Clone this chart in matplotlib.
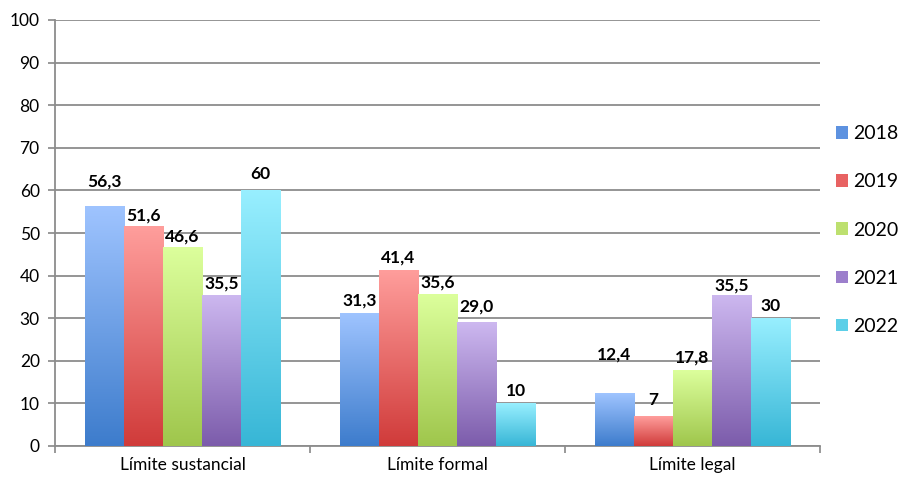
import numpy as np
import matplotlib
matplotlib.use("Agg")
import matplotlib.pyplot as plt
from matplotlib.colors import LinearSegmentedColormap
from matplotlib.patches import Patch

categories = ["Límite sustancial", "Límite formal", "Límite legal"]
years = ["2018", "2019", "2020", "2021", "2022"]
v2018 = [56.3, 31.3, 12.4]
v2019 = [51.6, 41.4, 7]
v2020 = [46.6, 35.6, 17.8]
v2021 = [35.5, 29.0, 35.5]
v2022 = [60, 10, 30]
labels2018 = ["56,3", "31,3", "12,4"]
labels2019 = ["51,6", "41,4", "7"]
labels2020 = ["46,6", "35,6", "17,8"]
labels2021 = ["35,5", "29,0", "35,5"]
labels2022 = ["60", "10", "30"]
yticks = [0, 10, 20, 30, 40, 50, 60, 70, 80, 90, 100]

series = [v2018, v2019, v2020, v2021, v2022]
series_labels = [labels2018, labels2019, labels2020, labels2021, labels2022]
grad = [("#9fc4ff", "#3d7ccc"), ("#ff9e9c", "#d03b3a"), ("#dcff9c", "#9fc64c"),
        ("#cdb8f0", "#7c5cab"), ("#98efff", "#37b6d6")]
legend_cols = ["#5d92e0", "#e86262", "#bde06f", "#9c7fcc", "#5ccfe8"]
# extra label offsets (points) to mimic reference placement
label_off = [[12, 3, 22], [2, 3, 6], [2, 3, 3], [2, 6, 1], [6, 3, 3]]

plt.rcParams['font.family'] = ['Lato', 'DejaVu Sans']
fig = plt.figure(figsize=(8.99, 4.78), dpi=100)
ax = fig.add_axes([55/899, 1-446/478, (820-55)/899, (446-20)/478])
ax.set_xlim(0, 3)
ax.set_ylim(0, 100)

bw = 0.153
x = np.arange(len(categories)) + 0.5
for i, (vals, labs) in enumerate(zip(series, series_labels)):
    xs = x + (i - 2) * bw
    bars = ax.bar(xs, vals, width=bw, color="none", zorder=3)
    cmap = LinearSegmentedColormap.from_list("g", [grad[i][1], grad[i][0]])
    for b, v, lab, off in zip(bars, vals, labs, label_off[i]):
        x0, w, h = b.get_x(), b.get_width(), b.get_height()
        im = ax.imshow(np.linspace(0, 1, 256).reshape(-1, 1), cmap=cmap, origin="lower",
                       extent=[x0, x0 + w, 0, h], aspect="auto", zorder=3)
        im.set_clip_path(b)
        ax.annotate(lab, (x0 + w / 2, h), xytext=(0, off), textcoords="offset points",
                    ha="center", va="bottom", fontsize=12.5, fontweight="bold", zorder=5)
ax.set_xlim(0, 3)
ax.set_ylim(0, 100)

ax.set_yticks(yticks)
ax.set_yticklabels([str(t) for t in yticks], fontsize=12.5)
ax.set_xticks([0, 1, 2, 3])
ax.set_xticklabels([])
ax.set_xticks(x, minor=True)
ax.set_xticklabels(categories, minor=True, fontsize=12.5)
ax.tick_params(axis="x", which="minor", length=0, pad=8)
ax.tick_params(axis="x", which="major", length=5, color="#888888", width=1.2)
ax.tick_params(axis="y", length=5, color="#888888", width=1.2, pad=6)
ax.yaxis.grid(True, color="#8c8c8c", linewidth=1.3, zorder=0)
ax.set_axisbelow(True)
for s in ["top", "right"]:
    ax.spines[s].set_visible(False)
for s in ["left", "bottom"]:
    ax.spines[s].set_color("#8c8c8c")
    ax.spines[s].set_linewidth(1.3)

handles = [Patch(facecolor=legend_cols[i], edgecolor="none") for i in range(5)]
fig.legend(handles, years, loc="center left", bbox_to_anchor=(836/899, 1-230/478),
           frameon=False, fontsize=14, handlelength=0.6, handleheight=0.6,
           handletextpad=0.3, labelspacing=1.6, borderaxespad=0, borderpad=0)

fig.savefig("out.png", dpi=100)
